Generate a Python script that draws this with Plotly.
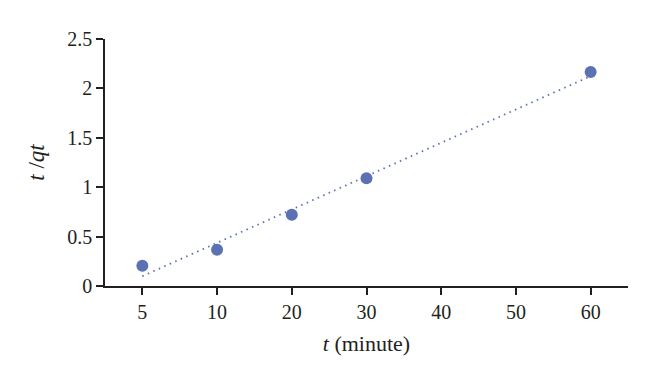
import numpy as np
import plotly.graph_objects as go

categories = ["5", "10", "20", "30", "40", "50", "60"]
point_x = ["5", "10", "20", "30", "60"]
point_y = [0.205, 0.367, 0.72, 1.09, 2.165]

# linear trendline fitted over category position (as in the original spreadsheet chart)
idx = np.array([categories.index(c) for c in point_x], dtype=float)
slope, intercept = np.polyfit(idx, np.array(point_y), 1)
trend_x = [point_x[0], point_x[-1]]
trend_y = [intercept + slope * idx[0], intercept + slope * idx[-1]]

color = "#5b71b3"
axis_color = "#231f20"
font_family = "Liberation Serif, serif"

fig = go.Figure()
fig.add_trace(go.Scatter(x=trend_x, y=trend_y, mode="lines",
                         line=dict(color=color, width=1.8, dash="1.5px,4.5px"),
                         showlegend=False, hoverinfo="skip"))
fig.add_trace(go.Scatter(x=point_x, y=point_y, mode="markers",
                         marker=dict(color=color, size=12),
                         showlegend=False))

fig.update_layout(
    width=660, height=386,
    margin=dict(l=97, r=40, t=31, b=108),
    plot_bgcolor="white", paper_bgcolor="white",
    font=dict(family=font_family, size=20, color=axis_color),
    xaxis=dict(type="category", categoryorder="array", categoryarray=categories,
               range=[-0.5, 6.5], showgrid=False, zeroline=False,
               showline=True, linecolor=axis_color, linewidth=1.5,
               ticks="outside", ticklen=7, tickwidth=1.5, tickcolor=axis_color,
               title=dict(text="<i>t</i> (minute)", font=dict(size=22), standoff=14)),
    yaxis=dict(range=[0, 2.5], tickvals=[0, 0.5, 1, 1.5, 2, 2.5],
               ticktext=["0", "0.5", "1", "1.5", "2", "2.5"],
               showgrid=False, zeroline=False,
               showline=True, linecolor=axis_color, linewidth=1.5,
               ticks="outside", ticklen=7, tickwidth=1.5, tickcolor=axis_color,
               title=dict(text="<i>t</i> /<i>qt</i>", font=dict(size=23), standoff=16)),
)

fig.write_html("out.html")
